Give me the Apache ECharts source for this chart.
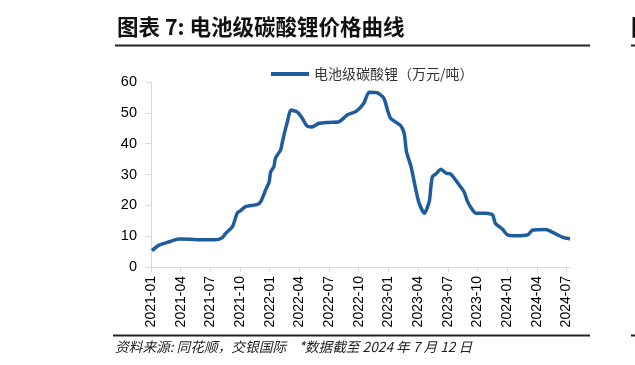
<!DOCTYPE html>
<html><head><meta charset="utf-8">
<script src="https://cdn.jsdelivr.net/npm/echarts@6/dist/echarts.min.js"></script>
<style>html,body{margin:0;padding:0;background:#fff}#c{width:635px;height:365px}</style>
</head><body><div id="c"></div>
<script>
const titleText = '图表 7: 电池级碳酸锂价格曲线';
const seriesName = '电池级碳酸锂（万元/吨）';
const sourceText = '资料来源: 同花顺，交银国际    *数据截至 2024 年 7 月 12 日';
const tickLabels = ['2021-01','2021-04','2021-07','2021-10','2022-01','2022-04','2022-07','2022-10',
  '2023-01','2023-04','2023-07','2023-10','2024-01','2024-04','2024-07'];
const yTicks = [0, 10, 20, 30, 40, 50, 60];
const dates = [
  '2021-01-04','2021-01-26','2021-02-25','2021-03-26','2021-05-01','2021-05-27','2021-07-17','2021-08-07',
  '2021-08-18','2021-09-08','2021-09-23','2021-10-03','2021-10-18','2021-11-24','2021-12-04','2021-12-14',
  '2021-12-19','2021-12-30','2022-01-04','2022-01-14','2022-01-19','2022-02-04','2022-02-09','2022-02-15',
  '2022-02-23','2022-03-05','2022-03-25','2022-04-10','2022-04-24','2022-05-08','2022-06-01','2022-07-01',
  '2022-08-01','2022-08-27','2022-09-22','2022-10-17','2022-11-02','2022-11-28','2022-12-18','2022-12-29',
  '2023-01-08','2023-02-08','2023-02-18','2023-02-24','2023-03-10','2023-03-25','2023-04-04','2023-04-20',
  '2023-05-05','2023-05-10','2023-05-15','2023-05-26','2023-06-10','2023-06-26','2023-07-11','2023-08-06',
  '2023-08-21','2023-09-01','2023-09-16','2023-09-27','2023-10-28','2023-11-17','2023-11-25','2023-12-18',
  '2024-01-02','2024-01-28','2024-03-03','2024-03-19','2024-04-29','2024-05-15','2024-05-30','2024-06-20',
  '2024-07-12'
];
const prices = [
  5.3, 7.1, 8.2, 9.1, 9.0, 8.8, 8.8, 9.5,
  10.9, 13.1, 17.6, 18.3, 19.6, 20.3, 21.2, 23.6,
  25.0, 27.5, 30.9, 32.5, 35.3, 38.0, 40.6, 43.6,
  47.1, 50.9, 50.3, 48.2, 45.7, 45.4, 46.6, 46.9,
  47.1, 49.3, 50.4, 53.1, 56.7, 56.5, 54.7, 50.9,
  48.2, 45.8, 43.1, 37.4, 32.5, 25.0, 20.7, 17.4,
  21.2, 26.0, 29.3, 30.2, 31.7, 30.4, 30.1, 26.6,
  24.4, 21.2, 18.5, 17.4, 17.4, 16.9, 14.2, 12.2,
  10.4, 10.1, 10.4, 12.0, 12.2, 11.5, 10.7, 9.6,
  9.1
];
function monthIndex(d) {
  const p = d.split('-').map(Number);
  const dim = new Date(p[0], p[1], 0).getDate();
  return (p[0] - 2021) * 12 + (p[1] - 1) + (p[2] - 1) / dim;
}
const tickValues = tickLabels.map(t => monthIndex(t + '-01'));
const xMax = monthIndex(dates[dates.length - 1]);
const lineColor = '#1f5c9c';
const axisGray = '#d9d9d9';

const chart = echarts.init(document.getElementById('c'), null, {renderer: 'canvas'});
chart.setOption({
  animation: false,
  backgroundColor: '#fff',
  grid: {left: 151, right: 65, top: 82, bottom: 98, outerBoundsMode: 'none'},
  legend: {
    left: 266, top: 62,
    itemWidth: 38, itemHeight: 4, itemGap: 6,
    icon: 'rect',
    textStyle: {fontFamily: 'Noto Sans CJK SC', fontSize: 14, color: '#333'},
    data: [seriesName]
  },
  xAxis: {
    type: 'value', min: 0, max: xMax,
    axisLine: {show: true, lineStyle: {color: axisGray, width: 1}},
    axisTick: {show: true, length: 5, inside: false, customValues: tickValues, lineStyle: {color: axisGray}},
    splitLine: {show: false},
    axisLabel: {
      customValues: tickValues, rotate: 90, margin: 9,
      fontFamily: 'Liberation Sans', fontSize: 14, color: '#000',
      formatter: v => tickLabels[tickValues.findIndex(t => Math.abs(t - v) < 1e-6)] || ''
    }
  },
  yAxis: {
    type: 'value', min: yTicks[0], max: yTicks[yTicks.length - 1], interval: 10,
    axisLine: {show: true, lineStyle: {color: axisGray, width: 1}},
    axisTick: {show: true, length: 5, lineStyle: {color: axisGray}},
    splitLine: {show: false},
    axisLabel: {margin: 14, fontFamily: 'Liberation Sans', fontSize: 14.5, color: '#000'}
  },
  series: [{
    name: seriesName, type: 'line', showSymbol: false, smooth: 0.2,
    lineStyle: {width: 3.5, color: lineColor}, itemStyle: {color: lineColor},
    data: dates.map((d, i) => [monthIndex(d), prices[i]])
  }],
  graphic: [
    {type: 'text', left: 117, top: 16, style: {text: titleText, fontFamily: 'Noto Sans CJK SC', fontWeight: 'bold', fontSize: 21.5, fill: '#111'}},
    {type: 'rect', shape: {x: 115, y: 44.5, width: 475, height: 2}, style: {fill: '#222'}},
    {type: 'text', left: 631, top: 16, style: {text: '图', fontFamily: 'Noto Sans CJK SC', fontWeight: 'bold', fontSize: 21.5, fill: '#111'}},
    {type: 'rect', shape: {x: 631, y: 44.5, width: 10, height: 2}, style: {fill: '#222'}},
    {type: 'rect', shape: {x: 113, y: 334.5, width: 477, height: 2}, style: {fill: '#222'}},
    {type: 'rect', shape: {x: 631, y: 334.5, width: 10, height: 2}, style: {fill: '#222'}},
    {type: 'text', left: 115, top: 340, style: {text: sourceText, fontFamily: 'Noto Sans CJK SC', fontStyle: 'italic', fontSize: 13.7, fill: '#222'}}
  ]
});
</script></body></html>
